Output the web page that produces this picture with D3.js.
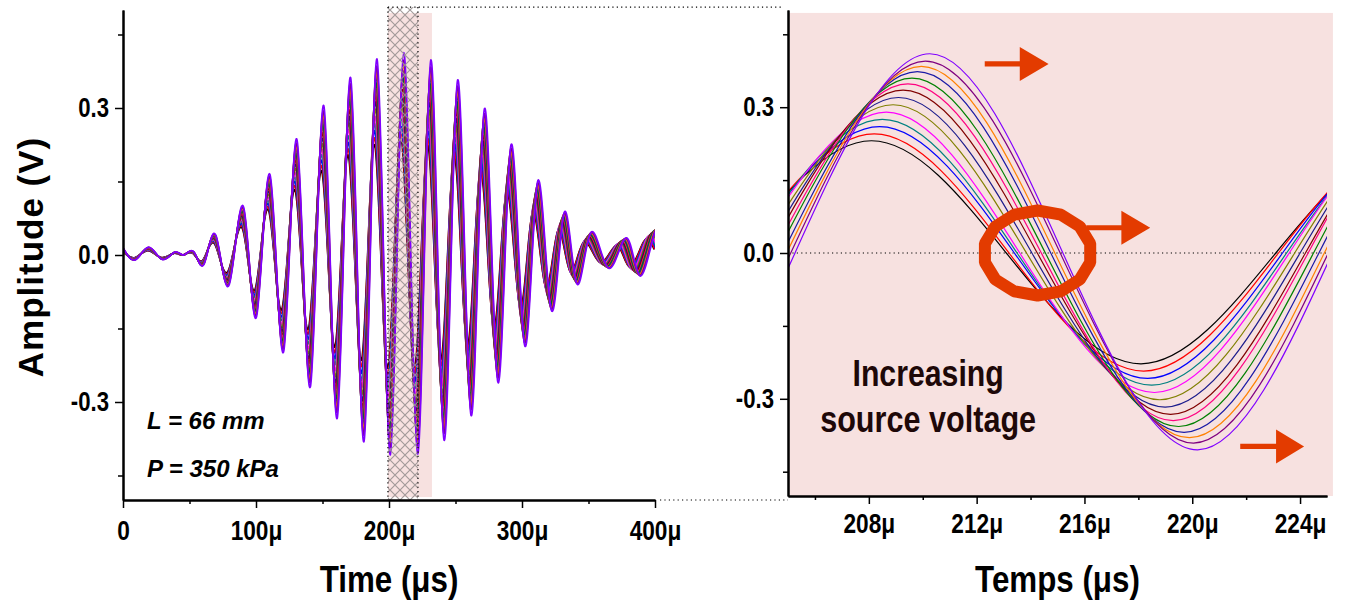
<!DOCTYPE html>
<html>
<head>
<meta charset="utf8">
<title>Amplitude vs time</title>
<style>
  body { margin: 0; background: #fff; }
  svg text { font-family: "Liberation Sans", Arial, sans-serif; font-weight: bold; fill: #000; }
  .axis path, .axis line { stroke: #000; }
  .axis path { stroke-width: 2; }
  .axis line { stroke-width: 1.5; }
</style>
</head>
<body>
<script src="https://d3js.org/d3.v7.min.js"></script>
<script>
var width = 1345, height = 609;

// one colour per source voltage, lowest first
var colors = ['#000000', '#ff0000', '#0000ff', '#008080', '#ff00ff', '#808000', '#1c1c8c',
              '#800000', '#ff0080', '#008000', '#1a1aa6', '#ff8000', '#800080', '#8000ff'];

// zoomed window (right), per trace: zero crossings and extrema around 205-225us
var prevZeroT = [193.1, 193.2, 193.4, 193.5, 193.65, 193.9, 194.1, 194.27, 194.45, 194.6, 194.8, 194.95, 195.1, 195.26];
var prevT   = [198.1, 198.2, 198.4, 198.5, 198.65, 198.9, 199.1, 199.27, 199.45, 199.6, 199.8, 199.95, 200.1, 200.26];
var prevV   = [-0.230, -0.244, -0.259, -0.274, -0.289, -0.304, -0.318, -0.333, -0.346, -0.358, -0.371, -0.382, -0.393, -0.408];
var riseT   = [203.1, 203.2, 203.4, 203.5, 203.65, 203.9, 204.1, 204.27, 204.45, 204.6, 204.8, 204.95, 205.1, 205.26];
var peakT   = [208.1, 208.2, 208.4, 208.5, 208.65, 208.9, 209.1, 209.27, 209.45, 209.6, 209.8, 209.95, 210.1, 210.26];
var peakV   = [0.231, 0.245, 0.260, 0.275, 0.290, 0.305, 0.320, 0.335, 0.348, 0.360, 0.373, 0.384, 0.395, 0.410];
var zeroT   = [213.1, 213.2, 213.4, 213.5, 213.6, 213.85, 214.05, 214.25, 214.4, 214.55, 214.75, 214.9, 215.1, 215.2];
var troughT = [218.1, 218.2, 218.35, 218.5, 218.6, 218.8, 219.0, 219.2, 219.3, 219.5, 219.7, 219.9, 220.05, 220.2];
var troughV = [-0.228, -0.243, -0.258, -0.272, -0.287, -0.302, -0.317, -0.332, -0.345, -0.357, -0.369, -0.380, -0.391, -0.405];
var rise2T  = [223.1, 223.2, 223.35, 223.5, 223.6, 223.8, 224.0, 224.2, 224.3, 224.5, 224.7, 224.9, 225.05, 225.2];
var nextT   = [228.1, 228.2, 228.35, 228.5, 228.6, 228.8, 229.0, 229.2, 229.3, 229.5, 229.7, 229.9, 230.05, 230.2];
var nextV   = [0.224, 0.238, 0.252, 0.267, 0.281, 0.296, 0.311, 0.325, 0.338, 0.350, 0.362, 0.373, 0.384, 0.398];
var nextZeroT = [233.1, 233.2, 233.35, 233.5, 233.6, 233.8, 234.0, 234.2, 234.3, 234.5, 234.7, 234.9, 235.05, 235.2];

// full signal (left): extrema of the highest trace, time in us, amplitude in V
var leftT = [0, 9.0, 19.0, 29.1, 38.6, 45.4, 53.0, 60.6, 69.4, 79.4, 90.2, 99.8, 110.0, 120.1, 130.1,
             140.1, 150.2, 160.2, 170.2, 180.2, 190.0, 200.0, 210.0, 220.3, 230.2, 240.1, 250.2, 260.2,
             270.2, 280.2, 290.0, 300.2, 309.8, 319.8, 329.3, 338.6, 349.1, 362.0, 375.0, 385.0, 396.0, 404.0];
var leftV = [0.014, -0.010, 0.016, -0.009, 0.006, 0.0, 0.006, -0.018, 0.040, -0.060, 0.097, -0.126, 0.163,
             -0.197, 0.235, -0.269, 0.304, -0.333, 0.362, -0.381, 0.400, -0.408, 0.413, -0.406, 0.398, -0.378,
             0.357, -0.327, 0.298, -0.259, 0.224, -0.184, 0.150, -0.112, 0.086, -0.058, 0.046, -0.027, 0.035,
             -0.043, 0.049, 0.02];
// spread in time between the earliest and latest trace along the signal
var fanT = [0, 100, 210, 300, 350, 400];
var fanW = [0.5, 1.2, 2.2, 3.5, 5.5, 9];

var xTicksL = [0, 100, 200, 300, 400];
var xTicksR = [208, 212, 216, 220, 224];
var yTicks = [-0.3, 0, 0.3];
var yMinor = [-0.45, -0.15, 0.15, 0.45];

var xL = d3.scaleLinear().domain([0, 400]).range([123, 655]);
var yL = d3.scaleLinear().domain([-0.5, 0.5]).range([500, 10]);
var xR = d3.scaleLinear().domain([205, 225]).range([788, 1327]);
var yR = d3.scaleLinear().domain([-0.5, 0.5]).range([496, 10]);

var svg = d3.select('body').append('svg')
    .attr('width', width)
    .attr('height', height);

// condensed look of the original bold narrow face
function narrow(sel, k) {
  sel.each(function() {
    var w = this.getComputedTextLength();
    d3.select(this).attr('textLength', w * k).attr('lengthAdjust', 'spacingAndGlyphs');
  });
}

var defs = svg.append('defs');
defs.append('clipPath').attr('id', 'clipL').append('rect')
    .attr('x', xL(0)).attr('y', yL(0.5)).attr('width', xL(400) - xL(0)).attr('height', yL(-0.5) - yL(0.5));
defs.append('clipPath').attr('id', 'clipR').append('rect')
    .attr('x', xR(205)).attr('y', yR(0.5)).attr('width', xR(225) - xR(205)).attr('height', yR(-0.5) - yR(0.5));
var pat = defs.append('pattern').attr('id', 'hatch')
    .attr('patternUnits', 'userSpaceOnUse').attr('width', 10).attr('height', 10);
pat.append('path').attr('d', 'M0,0L10,10M10,0L0,10M-1,9L1,11M9,-1L11,1')
    .attr('stroke', '#9a9292').attr('stroke-width', 1.2);

var pink = '#f7e1e0';
var dots = '1.2,3.2';

// ---------- left panel ----------
var hatchT = [199.2, 221.8], bandEnd = 232.3;

svg.append('rect')
    .attr('x', xL(hatchT[0])).attr('y', yL(0.494))
    .attr('width', xL(bandEnd) - xL(hatchT[0])).attr('height', yL(-0.494) - yL(0.494))
    .attr('fill', pink);

var fan = d3.scaleLinear().domain(fanT).range(fanW);
var frac = d3.scaleLinear().domain([peakT[0], peakT[peakT.length - 1]]);
var leftSeries = colors.map(function(c, i) {
  var g = peakV[i] / peakV[peakV.length - 1], f = frac(peakT[i]) - 0.5;
  return leftT.map(function(t, k) { return [t + f * fan(t), leftV[k] * g]; });
});

var lineL = d3.line().x(function(d) { return xL(d[0]); }).y(function(d) { return yL(d[1]); })
    .curve(d3.curveNatural);

svg.append('g').attr('clip-path', 'url(#clipL)')
  .selectAll('path').data(leftSeries).enter().append('path')
    .attr('d', lineL)
    .attr('fill', 'none')
    .attr('stroke', function(d, i) { return colors[i]; })
    .attr('stroke-width', 1.7);

svg.append('rect')
    .attr('x', xL(hatchT[0])).attr('y', yL(0.506))
    .attr('width', xL(hatchT[1]) - xL(hatchT[0])).attr('height', yL(-0.5) - yL(0.506))
    .attr('fill', 'url(#hatch)').attr('opacity', 0.9);

svg.selectAll('.hatchEdge').data(hatchT).enter().append('line')
    .attr('x1', function(d) { return xL(d); }).attr('x2', function(d) { return xL(d); })
    .attr('y1', yL(0.506)).attr('y2', yL(-0.5))
    .attr('stroke', '#000').attr('stroke-width', 1.2).attr('stroke-dasharray', dots);

// connectors to the zoomed window
svg.append('line')
    .attr('x1', xL(hatchT[0])).attr('x2', xR(205) - 5).attr('y1', yL(0.506)).attr('y2', yL(0.506))
    .attr('stroke', '#000').attr('stroke-width', 1.2).attr('stroke-dasharray', dots);
svg.append('line')
    .attr('x1', xL(400) + 5).attr('x2', xR(205)).attr('y1', yL(-0.5)).attr('y2', yL(-0.5))
    .attr('stroke', '#000').attr('stroke-width', 1.2).attr('stroke-dasharray', dots);

function yFmt(d) { return d === 0 ? '0.0' : (d < 0 ? '-' : '') + Math.abs(d).toFixed(1); }

function drawAxes(x, y, xt, xFmt, xPad) {
  var minorX = [];
  for (var i = 0; i < xt.length; i++) {
    if (i > 0) minorX.push((xt[i] + xt[i - 1]) / 2);
  }
  var step = xt[1] - xt[0];
  if (xt[0] - step / 2 > x.domain()[0]) minorX.push(xt[0] - step / 2);
  if (xt[xt.length - 1] + step / 2 < x.domain()[1]) minorX.push(xt[xt.length - 1] + step / 2);

  svg.append('g').attr('class', 'axis').attr('transform', 'translate(0,' + y.range()[0] + ')')
      .call(d3.axisBottom(x).tickValues(minorX).tickSize(4).tickSizeOuter(0).tickFormat(''));
  var gx = svg.append('g').attr('class', 'axis').attr('transform', 'translate(0,' + y.range()[0] + ')')
      .call(d3.axisBottom(x).tickValues(xt).tickSize(8).tickSizeOuter(0).tickPadding(xPad).tickFormat(xFmt));
  gx.selectAll('text').style('font-size', '27px').attr('font-family', null).call(narrow, 0.84);

  svg.append('g').attr('class', 'axis').attr('transform', 'translate(' + x.range()[0] + ',0)')
      .call(d3.axisLeft(y).tickValues(yMinor).tickSize(5).tickSizeOuter(0).tickFormat(''));
  var gy = svg.append('g').attr('class', 'axis').attr('transform', 'translate(' + x.range()[0] + ',0)')
      .call(d3.axisLeft(y).tickValues(yTicks).tickSize(8).tickSizeOuter(0).tickPadding(6).tickFormat(yFmt));
  gy.selectAll('text').style('font-size', '27px').attr('font-family', null).call(narrow, 0.82);
}

drawAxes(xL, yL, xTicksL, function(d) { return d === 0 ? '0' : d + 'μ'; }, 13);

svg.append('text').attr('x', 147).attr('y', 429)
    .style('font-size', '24px').style('font-style', 'italic').text('L = 66 mm');
svg.append('text').attr('x', 147).attr('y', 477)
    .style('font-size', '24px').style('font-style', 'italic').text('P = 350 kPa');

svg.append('text').attr('x', (xL(0) + xL(400)) / 2).attr('y', 592)
    .attr('text-anchor', 'middle').style('font-size', '36px').text('Time (μs)').call(narrow, 0.87);

svg.append('text').attr('transform', 'translate(43,' + (yL(0) + 2) + ') rotate(-90)')
    .attr('text-anchor', 'middle')
    .style('font-size', '35px').style('letter-spacing', '1px')
    .text('Amplitude (V)');

// ---------- right panel ----------
svg.append('rect')
    .attr('x', xR(205)).attr('y', yR(0.494))
    .attr('width', xR(225.22) - xR(205)).attr('height', yR(-0.5) - yR(0.494))
    .attr('fill', pink);

svg.append('line')
    .attr('x1', xR(205)).attr('x2', xR(225)).attr('y1', yR(0)).attr('y2', yR(0))
    .attr('stroke', '#000').attr('stroke-width', 1.1).attr('stroke-dasharray', dots);

var rightSeries = colors.map(function(c, i) {
  return [[prevZeroT[i], 0], [prevT[i], prevV[i]], [riseT[i], 0], [peakT[i], peakV[i]], [zeroT[i], 0],
          [troughT[i], troughV[i]], [rise2T[i], 0], [nextT[i], nextV[i]], [nextZeroT[i], 0]];
});
var lineR = d3.line().x(function(d) { return xR(d[0]); }).y(function(d) { return yR(d[1]); })
    .curve(d3.curveNatural);

svg.append('g').attr('clip-path', 'url(#clipR)')
  .selectAll('path').data(rightSeries).enter().append('path')
    .attr('d', lineR)
    .attr('fill', 'none')
    .attr('stroke', function(d, i) { return colors[i]; })
    .attr('stroke-width', 1.2);

drawAxes(xR, yR, xTicksR, function(d) { return d + 'μ'; }, 10);

svg.append('text').attr('x', (xR(205) + xR(225)) / 2).attr('y', 592)
    .attr('text-anchor', 'middle').style('font-size', '36px').text('Temps (μs)').call(narrow, 0.87);

svg.append('text').attr('x', xR(210.2)).attr('y', 386)
    .attr('text-anchor', 'middle').style('font-size', '36px').style('fill', '#1e0808')
    .text('Increasing').call(narrow, 0.84);
svg.append('text').attr('x', xR(210.2)).attr('y', 432)
    .attr('text-anchor', 'middle').style('font-size', '36px').style('fill', '#1e0808')
    .text('source voltage').call(narrow, 0.85);

// annotations: arrows and ring
var accent = '#e33b00';
var arrows = [
  { t0: 212.3, tb: 213.6, t1: 214.67, v: 0.389 },
  { t0: 216.07, tb: 217.37, t1: 218.44, v: 0.052 },
  { t0: 221.78, tb: 223.11, t1: 224.15, v: -0.398 }
];
svg.selectAll('.arrow').data(arrows).enter().append('path')
    .attr('fill', accent)
    .attr('d', function(a) {
      var x0 = xR(a.t0), xb = xR(a.tb), x1 = xR(a.t1), y = yR(a.v);
      return 'M' + x0 + ',' + (y - 2.6) + 'L' + xb + ',' + (y - 2.6) + 'L' + xb + ',' + (y - 17) +
             'L' + x1 + ',' + y + 'L' + xb + ',' + (y + 17) + 'L' + xb + ',' + (y + 2.6) +
             'L' + x0 + ',' + (y + 2.6) + 'Z';
    });

var ring = { t: 214.26, v: 0, rx: 54, ry: 42.5 };
var ringPts = d3.range(14).map(function(k) {
  var a = (k + 0.5) / 14 * 2 * Math.PI;
  return [xR(ring.t) + ring.rx * Math.cos(a), yR(ring.v) + ring.ry * Math.sin(a)];
});
svg.append('path')
    .attr('d', d3.line().curve(d3.curveLinearClosed)(ringPts))
    .attr('fill', 'none').attr('stroke', accent).attr('stroke-width', 12)
    .attr('stroke-linejoin', 'bevel');
</script>
</body>
</html>
